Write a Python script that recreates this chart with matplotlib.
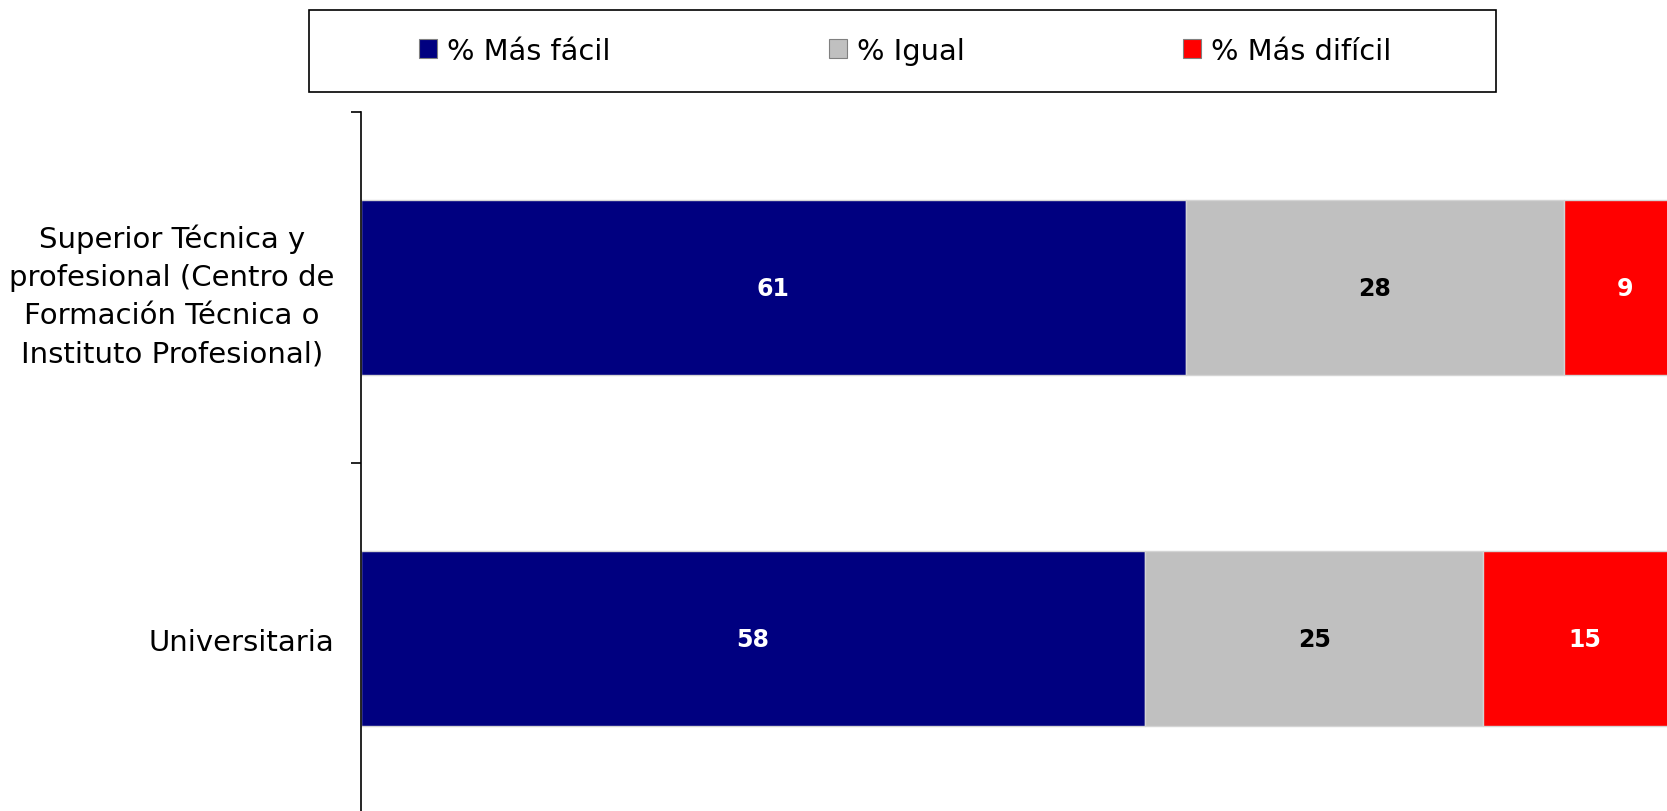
import matplotlib.pyplot as plt
from matplotlib.patches import Patch, Rectangle

plt.rcParams['font.family'] = ['DejaVu Sans']

categories = ["Superior Técnica y\nprofesional (Centro de\nFormación Técnica o\nInstituto Profesional)",
              "Universitaria"]
series_names = ["% Más fácil", "% Igual", "% Más difícil"]
mas_facil = [61, 58]
igual = [28, 25]
mas_dificil = [9, 15]

colors = ["#000080", "#c0c0c0", "#ff0000"]
text_colors = ["white", "black", "white"]

fig = plt.figure(figsize=(16.67, 8.12), dpi=100)
ax = fig.add_axes([0.2166, -0.0037, 0.7834, 0.8645])

y = list(range(len(categories)))
left = [0] * len(categories)
for vals, col, tcol in zip([mas_facil, igual, mas_dificil], colors, text_colors):
    ax.barh(y, vals, left=left, height=0.5, color=col,
            edgecolor="#d4d4d4", linewidth=1)
    for i, v in enumerate(vals):
        ax.text(left[i] + v / 2, y[i], str(v), ha="center", va="center",
                color=tcol, fontsize=17, fontweight="bold")
    left = [l + v for l, v in zip(left, vals)]

ax.set_xlim(0, 96.6)
ax.set_ylim(1.5, -0.5)

ax.set_yticks(y)
ax.set_yticklabels(categories, fontsize=21, multialignment="center",
                   linespacing=1.45)
ax.tick_params(axis="y", which="major", length=0, pad=19)
ax.set_yticks([-0.5, 0.5, 1.5], minor=True)
ax.tick_params(axis="y", which="minor", length=7.5, width=1.2, direction="out")
ax.set_xticks([])

for s in ["top", "right", "bottom"]:
    ax.spines[s].set_visible(False)
ax.spines["left"].set_linewidth(1.2)

# legend box
box = Rectangle((309 / 1667, 1 - 93 / 812), (1496 - 309) / 1667, (93 - 11) / 812,
                transform=fig.transFigure, fill=False, edgecolor="black",
                linewidth=1.2)
fig.patches.append(box)

handles = [Patch(facecolor=c, edgecolor="#808080", linewidth=0.8) for c in colors]
fig.legend(handles, series_names, loc="center",
           bbox_to_anchor=((414 + 1393) / 2 / 1667 + 0.001, 1 - 52 / 812),
           ncol=3, frameon=False, fontsize=20.8, handlelength=0.62,
           handleheight=0.62, handletextpad=0.36, columnspacing=7.55,
           borderpad=0, borderaxespad=0)

plt.savefig("out.png", dpi=100)
